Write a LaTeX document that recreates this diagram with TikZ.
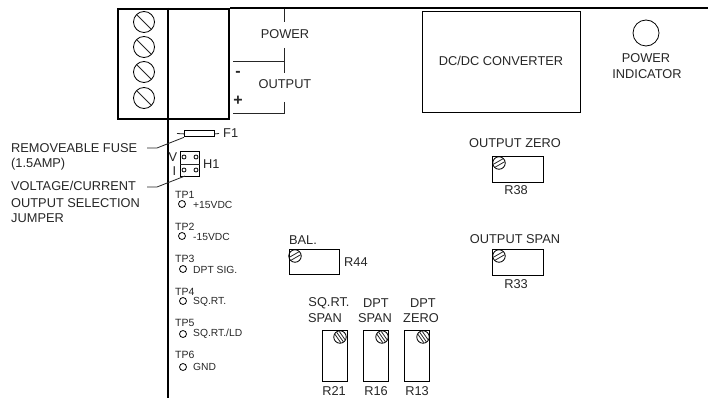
\documentclass[tikz,border=0pt]{standalone}
\usepackage{fontspec}
\setmainfont{Liberation Sans}
\newcommand{\lbl}{\fontsize{12.8}{15}\selectfont}
\newcommand{\tpl}{\fontsize{10.5}{12}\selectfont}
\newcommand{\tpv}{\fontsize{10.3}{12}\selectfont}
\newcommand{\myscrew}[2]{%
  \node[screwc] (#1) at (#2) {};
  \draw[thin1] (#1.135) -- (#1.-45);
}
\newcommand{\mypot}[3]{%
  \node[potc] (#1) at (#2) {};
  \begin{scope}[shift={(#2)},rotate=#3]
    \draw[thin1] (-5.6,-1.7) -- (5.6,-1.7) (-5.6,1.7) -- (5.6,1.7);
  \end{scope}
}
\newcommand{\myvpot}[3]{%
  \node[potc] (#1) at (#2) {};
  \begin{scope}[shift={(#2)},rotate=#3]
    \draw[thin1] (-5,-2.6) -- (5,-2.6) (-5.9,0) -- (5.9,0) (-5,2.6) -- (5,2.6);
  \end{scope}
}
\tikzset{
  thin1/.style={line width=0.8pt,black!85},
  heavy/.style={line width=2.2pt,black},
  screwc/.style={circle,draw,line width=0.8pt,minimum size=21pt,inner sep=0pt},
  potc/.style={circle,draw,line width=0.8pt,minimum size=12.5pt,inner sep=0pt},
  tph/.style={circle,draw,line width=0.8pt,minimum size=7pt,inner sep=0pt},
  pin/.style={circle,draw,line width=0.8pt,minimum size=4pt,inner sep=0pt},
  box/.style={draw,line width=0.8pt,inner sep=0pt,anchor=north west},
  txt/.style={inner sep=0pt,font=\lbl,text=black!85},
  txtl/.style={txt,anchor=west},
  tpn/.style={inner sep=0pt,anchor=west,font=\tpl,text=black!85},
  tpt/.style={inner sep=0pt,anchor=west,font=\tpv,text=black!85},
}
\begin{document}
\begin{tikzpicture}[x=1pt,y=-1pt]
\useasboundingbox (0,0) rectangle (708,398);
% terminal block
\node[box,heavy,minimum width=111pt,minimum height=110pt] (block) at (117,8) {};
\coordinate (divtop) at (168,8);
\coordinate (divbot) at (168,398);
\draw[heavy] (divtop) -- (divbot);
\coordinate (rightend) at (708,8);
\draw[line width=1.7pt] (block.north east) -- (rightend);
\myscrew{s1}{144,22}
\myscrew{s2}{144,47}
\myscrew{s3}{144,72}
\myscrew{s4}{144,98}
% power / output brackets
\coordinate (pa) at (284,9);
\coordinate (pb) at (284,22);
\coordinate (pc) at (284,48);
\coordinate (pd) at (284,73);
\coordinate (pe) at (233,61);
\coordinate (pf) at (284,61);
\coordinate (pg) at (284,102);
\coordinate (ph) at (284,113);
\coordinate (pi) at (233,113);
\draw[thin1] (pa) -- (pb);
\draw[thin1] (pc) -- (pd);
\draw[thin1] (pe) -- (pf);
\draw[thin1] (pg) -- (ph) -- (pi);
\node[txt] (power) at (285,34) {POWER};
\node[txt] (output) at (285,84) {OUTPUT};
\node[txt,font=\fontsize{16}{18}\selectfont\bfseries] (minus) at (238,74) {-};
\node[txt,font=\fontsize{16}{18}\selectfont\bfseries] (plus) at (238,101) {+};
% DC/DC and indicator
\node[box,minimum width=158pt,minimum height=101pt] (dc) at (422,11) {};
\node[txt] (dct) at (501,61) {DC/DC CONVERTER};
\node[circle,draw,line width=0.8pt,minimum size=26pt,inner sep=0pt] (led) at (646,33) {};
\node[txt] (pwr) at (646,58) {POWER};
\node[txt] (ind) at (647,74) {INDICATOR};
% fuse
\node[box,fill=white,minimum width=30pt,minimum height=6pt] (fuse) at (184,130.5) {};
\coordinate (fl) at (177,133.5);
\coordinate (fr) at (219,133.5);
\draw[thin1] (fl) -- (fuse.west) (fuse.east) -- (fr);
\node[txtl] (f1) at (223,133) {F1};
\node[txtl] (rf) at (11,148) {REMOVEABLE FUSE};
\node[txtl] (ra) at (11,164) {(1.5AMP)};
\coordinate (l1) at (147,148);
\coordinate (l2) at (157,148);
\draw[thin1] (l1) -- (l2) -- (fuse.south west);
% jumper
\node[box,minimum width=19pt,minimum height=25pt] (h1box) at (180,151) {};
\draw[thin1] (h1box.west) -- (h1box.east);
\node[pin] (p1) at (184,157) {};
\node[pin] (p2) at (196,157) {};
\node[pin] (p3) at (184,170) {};
\node[pin] (p4) at (196,170) {};
\node[txt] (v) at (173,157) {V};
\node[txt] (i) at (174.5,171) {I};
\node[txtl] (h1) at (203,164) {H1};
\node[txtl] (vc) at (11,186) {VOLTAGE/CURRENT};
\node[txtl] (os) at (11,203) {OUTPUT SELECTION};
\node[txtl] (ju) at (11,218) {JUMPER};
\coordinate (l3) at (147,187);
\coordinate (l4) at (157,187);
\coordinate (l5) at (185,176);
\draw[thin1] (l3) -- (l4) -- (l5);
% test points
\node[tpn] (tp1) at (175,195) {TP1};
\node[tph] (c1) at (182,204) {};
\node[tpt] (t1) at (193,205) {+15VDC};
\node[tpn] (tp2) at (175,227) {TP2};
\node[tph] (c2) at (182,236) {};
\node[tpt] (t2) at (193,237) {-15VDC};
\node[tpn] (tp3) at (175,259) {TP3};
\node[tph] (c3) at (183,269) {};
\node[tpt] (t3) at (193,270) {DPT SIG.};
\node[tpn] (tp4) at (175,292) {TP4};
\node[tph] (c4) at (183,301) {};
\node[tpt] (t4) at (193,302) {SQ.RT.};
\node[tpn] (tp5) at (175,323) {TP5};
\node[tph] (c5) at (183,334) {};
\node[tpt] (t5) at (193,334) {SQ.RT./LD};
\node[tpn] (tp6) at (175,355) {TP6};
\node[tph] (c6) at (183,367) {};
\node[tpt] (t6) at (193,367) {GND};
% BAL
\node[txt] (bal) at (303,240) {BAL.};
\node[box,minimum width=50pt,minimum height=25pt] (r44) at (289,249) {};
\mypot{pb1}{295,256}{30}
\node[txtl] (r44t) at (344,262) {R44};
% output zero / span
\node[txt] (oz) at (515,143) {OUTPUT ZERO};
\node[box,minimum width=51pt,minimum height=26pt] (r38) at (492,156) {};
\mypot{pb2}{499,163}{30}
\node[txt] (r38t) at (516,190) {R38};
\node[txt] (osp) at (515,239) {OUTPUT SPAN};
\node[box,minimum width=51pt,minimum height=26pt] (r33) at (492,249) {};
\mypot{pb3}{499,256}{30}
\node[txt] (r33t) at (516,284) {R33};
% vertical pots
\node[txt] (sq) at (329,303) {SQ.RT.};
\node[txt] (sp1) at (325,318) {SPAN};
\node[txt] (dp1) at (376,303) {DPT};
\node[txt] (sp2) at (375,318) {SPAN};
\node[txt] (dp2) at (423,303) {DPT};
\node[txt] (ze) at (421,318) {ZERO};
\node[box,minimum width=25pt,minimum height=51pt] (r21) at (322,330) {};
\node[box,minimum width=25pt,minimum height=51pt] (r16) at (363,330) {};
\node[box,minimum width=25pt,minimum height=51pt] (r13) at (404,330) {};
\myvpot{pv1}{340,337}{-55}
\myvpot{pv2}{382,337}{-55}
\myvpot{pv3}{423,337}{-55}
\node[txt] (r21t) at (334,391.5) {R21};
\node[txt] (r16t) at (376,391.5) {R16};
\node[txt] (r13t) at (417,391.5) {R13};
\end{tikzpicture}
\end{document}
